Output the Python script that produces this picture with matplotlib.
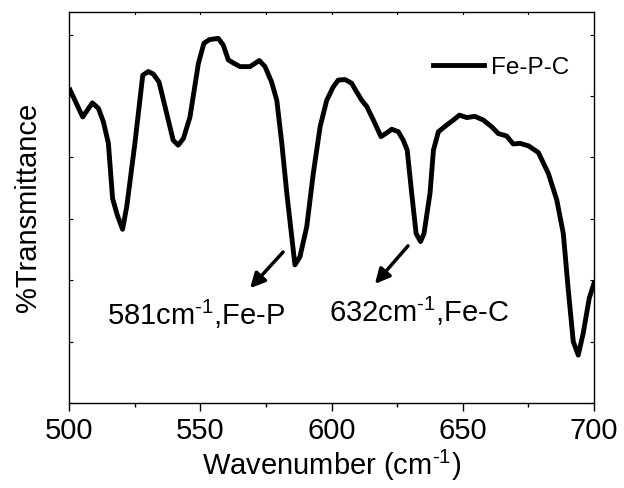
import matplotlib
matplotlib.use("Agg")
import matplotlib.pyplot as plt
from matplotlib.ticker import MultipleLocator

plt.rcParams['font.family'] = ['Liberation Sans', 'DejaVu Sans']
plt.rcParams['mathtext.fontset'] = 'custom'
plt.rcParams['mathtext.rm'] = 'Liberation Sans'
plt.rcParams['mathtext.it'] = 'Liberation Sans'
plt.rcParams['mathtext.default'] = 'regular'

wavenumber = [500.3, 505.1, 508.8, 511.1, 513.0, 514.9, 516.5, 518.3, 520.3, 521.9,
              525.0, 528.0, 530.1, 532.0, 534.2, 537.1, 539.6, 541.5, 543.5, 546.0,
              549.2, 551.3, 553.4, 556.8, 558.7, 560.6, 562.5, 565.1, 568.9, 572.4,
              574.6, 577.1, 579.1, 581.0, 582.9, 586.0, 587.9, 590.5, 593.0, 595.6,
              598.1, 600.6, 602.5, 605.1, 607.6, 609.5, 611.5, 613.4, 615.9, 618.8,
              621.0, 622.9, 625.4, 627.3, 628.8, 630.5, 632.2, 633.9, 635.2, 637.5,
              638.8, 640.7, 643.9, 646.4, 648.7, 651.5, 654.6, 657.8, 661.0, 663.5,
              666.7, 669.2, 671.8, 675.0, 678.8, 682.6, 685.8, 688.3, 690.2, 692.1,
              694.0, 695.9, 698.2, 700.0]
transmittance = [5.10, 4.66, 4.89, 4.80, 4.58, 4.23, 3.33, 3.06, 2.83, 3.20,
                 4.23, 5.34, 5.40, 5.36, 5.23, 4.72, 4.28, 4.20, 4.31, 4.66,
                 5.53, 5.86, 5.92, 5.94, 5.83, 5.59, 5.54, 5.48, 5.48, 5.58,
                 5.48, 5.23, 4.93, 4.23, 3.42, 2.25, 2.38, 2.87, 3.74, 4.50,
                 4.93, 5.15, 5.26, 5.27, 5.21, 5.07, 4.93, 4.83, 4.61, 4.34,
                 4.40, 4.46, 4.42, 4.28, 4.12, 3.42, 2.76, 2.63, 2.76, 3.42,
                 4.12, 4.42, 4.53, 4.61, 4.69, 4.65, 4.67, 4.61, 4.50, 4.39,
                 4.35, 4.22, 4.23, 4.19, 4.08, 3.74, 3.31, 2.76, 1.84, 1.00,
                 0.78, 1.14, 1.71, 1.95]

series_label = "Fe-P-C"
x_ticks = [500, 550, 600, 650, 700]
annotations = [
    (r"581cm$^{\text{-1}}$,Fe-P", (568.9, 1.87), (581.5, 2.46), (514.4, 1.27)),
    (r"632cm$^{\text{-1}}$,Fe-C", (616.5, 1.94), (629.1, 2.56), (599.0, 1.32)),
]

fig = plt.figure(figsize=(6.24, 4.88), dpi=100)
ax = fig.add_axes([69.3/624, 1 - 403/488, (594 - 69.3)/624, (403 - 12)/488])

ax.plot(wavenumber, transmittance, color='black', lw=3.5, label=series_label,
        solid_joinstyle='round')

ax.set_xlim(500, 700)
ax.set_ylim(0, 6.37)
ax.set_xticks(x_ticks)
ax.xaxis.set_minor_locator(MultipleLocator(25))
ax.yaxis.set_major_locator(MultipleLocator(1))
ax.tick_params(axis='x', which='major', direction='out', length=6, width=1,
               labelsize=21, pad=4, top=False)
ax.tick_params(axis='x', which='minor', direction='out', length=3, width=1, top=False)
ax.tick_params(axis='y', which='major', direction='in', length=3, width=0.8,
               labelleft=False, right=True)
for sp in ax.spines.values():
    sp.set_linewidth(1.0)

# top inner ticks
for xv in [525, 550, 575, 600, 625, 650, 675]:
    ax.plot([xv, xv], [6.37, 6.33], color='black', lw=0.8, clip_on=False)

ax.set_xlabel(r"Wavenumber (cm$^{\text{-1}}$)", fontsize=21, labelpad=2)
ax.set_ylabel("%Transmittance", fontsize=21, labelpad=20)

for text, tip, tail, tpos in annotations:
    ax.annotate("", xy=tip, xytext=tail,
                arrowprops=dict(arrowstyle='-|>', color='black', lw=2.5,
                                mutation_scale=22, shrinkA=0, shrinkB=0))
    ax.text(tpos[0], tpos[1], text, fontsize=21, ha='left', va='baseline')

leg = ax.legend(loc='upper right', frameon=False, fontsize=17.5, handlelength=2.1,
                handletextpad=0.3, bbox_to_anchor=(0.972, 0.91), borderaxespad=0)

fig.savefig("out.png", dpi=100)
